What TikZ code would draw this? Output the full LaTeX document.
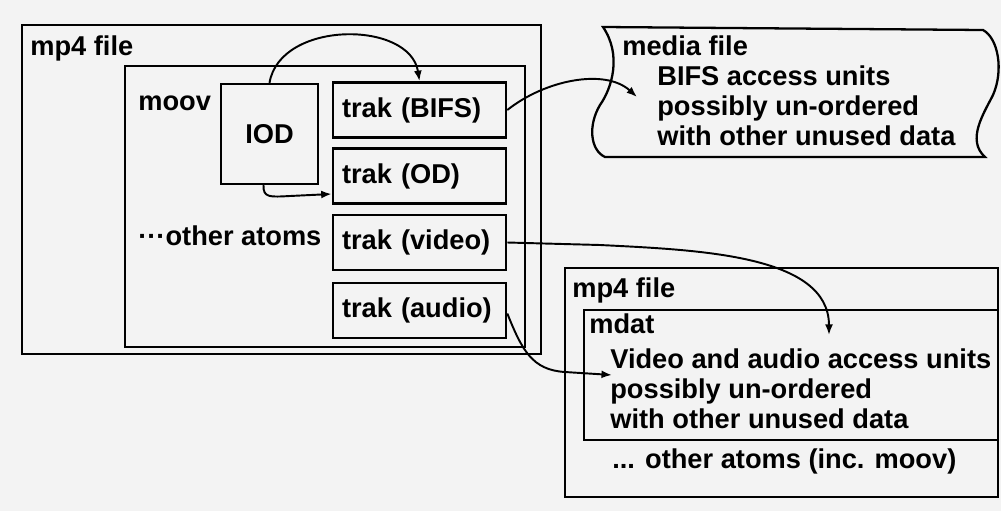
\documentclass[tikz,border=0pt]{standalone}
\usepackage{fontspec}
\setmainfont{Liberation Sans}
\usetikzlibrary{arrows.meta,fit}
\definecolor{paper}{RGB}{243,243,243}

\begin{document}
\begin{tikzpicture}[x=0.02cm,y=-0.02cm,font=\bfseries\fontsize{15.5}{17}\selectfont]
\tikzset{frame/.style={draw=black,line width=1.3pt,inner sep=0pt},
	trakbox/.style={draw=black,line width=1.5pt,minimum height=1.1cm,text width=3.1cm,align=left,inner xsep=0.18cm},
	lbl/.style={anchor=base west,inner sep=0pt},
	link/.style={line width=1.1pt,-{Latex[length=6pt,width=4.5pt]}}}
\fill[paper] (0,0) rectangle (1001,511);
\useasboundingbox (0,0) rectangle (1001,511);

% first mp4 file with moov
\node[frame,fit={(22,25) (541,354)}] (file1) {};
\node[frame,fit={(125,66) (525,347)}] (moov) {};
\node[lbl] (file1lbl) at (30,55) {mp4 file};
\node[lbl] (moovlbl) at (138,110) {moov};
\node[lbl] (moovrest) at (138,245) {···other atoms};
\node[draw=black,line width=1.3pt,minimum width=1.94cm,minimum height=2cm] (iod) at (269.5,134) {IOD};
\foreach \nm/\ty/\txt in {bifs/110/BIFS,od/176/OD,video/242.5/video,audio/310.5/audio}{%
	\node[trakbox] (\nm) at (419.5,\ty) {trak (\txt)};
}%

% media file
\draw[frame] (603,27) -- (983,30)
	.. controls (998,38) and (1004,70) .. (993,95)
	.. controls (984,113) and (966,140) .. (985,157) -- (605,157)
	.. controls (590,150) and (588,125) .. (600,105)
	.. controls (612,88) and (622,55) .. (603,27) -- cycle;
\node[lbl] (medialbl) at (622,55) {media file};
\foreach \txt [count=\i] in {BIFS access units,possibly un-ordered,with other unused data}{%
	\node[lbl] (bifsline\i) at (657,55+30*\i) {\txt};
}%

% second mp4 file with mdat
\node[frame,fit={(565,268) (998,497)}] (file2) {};
\node[frame,fit={(584,310) (998,440)}] (mdat) {};
\node[lbl] (file2lbl) at (572,297) {mp4 file};
\node[lbl] (mdatlbl) at (589,333) {mdat};
\foreach \txt [count=\i] in {Video and audio access units,possibly un-ordered,with other unused data}{%
	\node[lbl] (avline\i) at (610,338+30*\i) {\txt};
}%
\node[lbl] (file2rest) at (612,468) {... other atoms (inc. moov)};

\coordinate (bifsin) at (637,97);
\coordinate (mdatin) at (829,335);
\coordinate (audioin) at (612,375);

\draw[link] (iod.north) .. controls (280,20) and (410,20) .. (bifs.north);
\draw[link] ([shift={(-6,0)}]iod.south) .. controls (263,198) and (270,197) .. (290,196) -- ([shift={(0,18)}]od.west);
\draw[link] (bifs.east) .. controls (545,80) and (605,68) .. (bifsin);
\draw[link] (video.east) -- (600,245) .. controls (700,250) and (829,255) .. (mdatin);
\draw[link] ([shift={(0,3)}]audio.east) .. controls (522,350) and (532,370) .. (565,372) -- (audioin);
\end{tikzpicture}
\end{document}
